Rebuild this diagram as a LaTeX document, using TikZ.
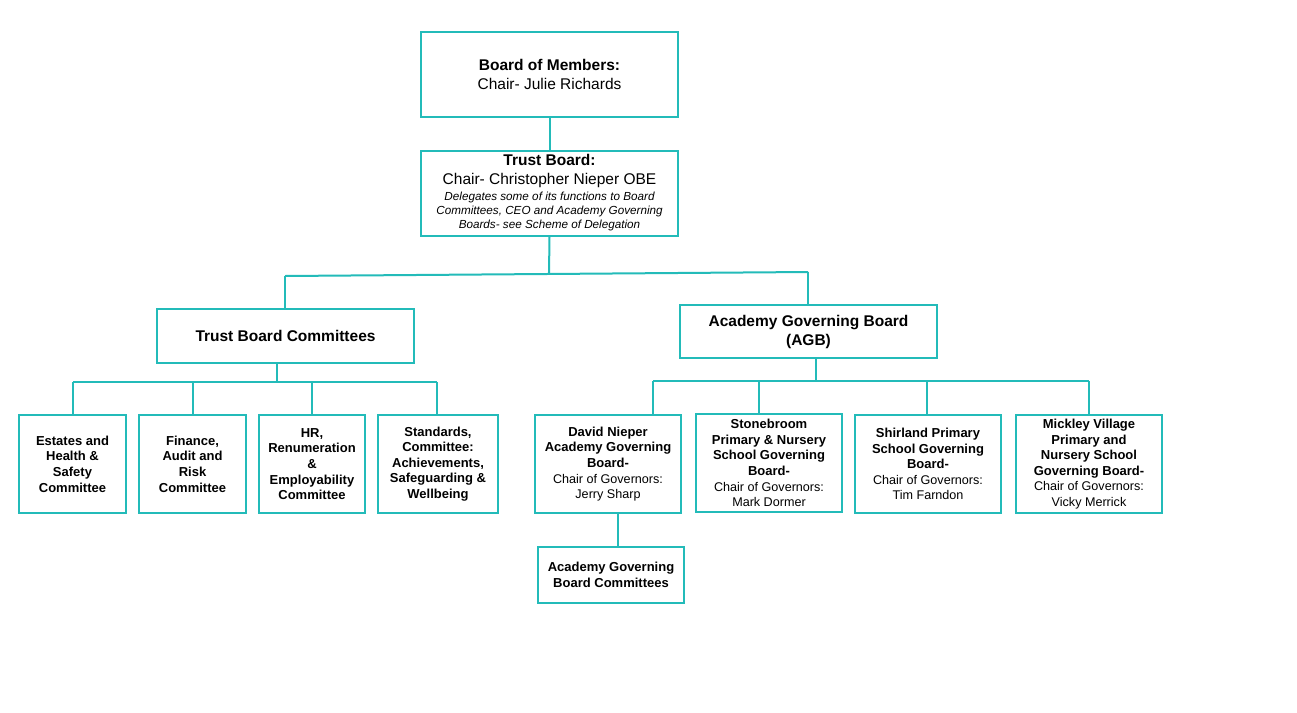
\documentclass[tikz,border=0pt]{standalone}
\usepackage{fontspec}
\setmainfont{Liberation Sans}
\definecolor{tealline}{RGB}{35,187,185}
\newcommand\rl[1]{{\mdseries\fontsize{12.6}{15.6}\selectfont #1}}
\newcommand\tbi[1]{{\fontsize{11.7}{14}\selectfont\itshape #1}}
\begin{document}
\begin{tikzpicture}[x=1pt,y=-1pt,
  box/.style={draw=tealline, line width=2pt, inner sep=0pt, align=center, fill=white},
  conn/.style={draw=tealline, line width=2pt},
  big/.style={font=\fontsize{15.5}{19}\selectfont},
  cmt/.style={font=\fontsize{13}{15.6}\selectfont\bfseries, minimum height=98},
  sch/.style={font=\fontsize{13}{15.6}\selectfont\bfseries, minimum width=146, minimum height=98}]
\useasboundingbox[fill=white] (0,0) rectangle (1297,712);

% connector junctions
\coordinate (hl) at (285,276);
\coordinate (hr) at (808,272);
\coordinate (hm) at (549,274);
\coordinate (tbus) at (277,382);
\coordinate (tbl) at (73,382);
\coordinate (tbr) at (437,382);
\coordinate (abus) at (816,381);
\coordinate (abl) at (653,381);
\coordinate (abr) at (1089,381);
\coordinate (a2) at (759,381);
\coordinate (a3) at (927,381);
\coordinate (dv) at (618,513);

% boxes
\node[box,big,minimum width=257,minimum height=85] (bom) at (549.5,74.5)
  {\textbf{Board of Members:}\\Chair- Julie Richards};
\node[box,big,minimum width=257,minimum height=85] (tb) at (549.5,193)
  {\textbf{Trust Board:}\\Chair- Christopher Nieper OBE\\[-3pt]
   \tbi{Delegates some of its functions to Board}\\[-5pt]
   \tbi{Committees, CEO and Academy Governing}\\[-5pt]
   \tbi{Boards- see Scheme of Delegation}};
\node[box,font=\fontsize{15.5}{19}\selectfont\bfseries,minimum width=257,minimum height=54] (tbc) at (285.5,336)
  {Trust Board Committees};
\node[box,font=\fontsize{15.5}{19}\selectfont\bfseries,minimum width=257,minimum height=53] (agb) at (808.5,331.5)
  {Academy Governing Board\\(AGB)};

\node[box,cmt,minimum width=107] (e1) at (72.5,464) {Estates and\\Health \&\\Safety\\Committee};
\node[box,cmt,minimum width=107] (e2) at (192.5,464) {Finance,\\Audit and\\Risk\\Committee};
\node[box,cmt,minimum width=106] (e3) at (312,464) {HR,\\Renumeration\\\&\\Employability\\Committee};
\node[box,cmt,minimum width=120] (e4) at (438,464) {Standards,\\Committee:\\Achievements,\\Safeguarding \&\\Wellbeing};

\node[box,sch] (s1) at (608,464) {David Nieper\\Academy Governing\\Board-\\
  \rl{Chair of Governors:}\\\rl{Jerry Sharp}};
\node[box,sch] (s2) at (769,463) {Stonebroom\\Primary \& Nursery\\School Governing\\Board-\\
  \rl{Chair of Governors:}\\\rl{Mark Dormer}};
\node[box,sch] (s3) at (928,464) {Shirland Primary\\School Governing\\Board-\\
  \rl{Chair of Governors:}\\\rl{Tim Farndon}};
\node[box,sch] (s4) at (1089,464) {Mickley Village\\Primary and\\Nursery School\\Governing Board-\\
  \rl{Chair of Governors:}\\\rl{Vicky Merrick}};

\node[box,font=\fontsize{13}{15.6}\selectfont\bfseries,minimum width=146,minimum height=56] (agbc) at (611,575)
  {Academy Governing\\Board Committees};

% connectors
\draw[conn] (bom.south) -- (tb.north);
\draw[conn] (tb.south) -- (hm);
\draw[conn] (hl) -- (hr);
\draw[conn] (hl) -- (hl |- tbc.north);
\draw[conn] (hr) -- (hr |- agb.north);

\draw[conn] (tbus |- tbc.south) -- (tbus);
\draw[conn] (tbl) -- (tbr);
\draw[conn] (tbl) -- (tbl |- e1.north);
\draw[conn] (e2.north |- tbus) -- (e2.north);
\draw[conn] (e3.north |- tbus) -- (e3.north);
\draw[conn] (tbr) -- (tbr |- e4.north);

\draw[conn] (abus |- agb.south) -- (abus);
\draw[conn] (abl) -- (abr);
\draw[conn] (abl) -- (abl |- s1.north);
\draw[conn] (a2) -- (a2 |- s2.north);
\draw[conn] (a3) -- (a3 |- s3.north);
\draw[conn] (abr) -- (abr |- s4.north);

\draw[conn] (dv) -- (dv |- agbc.north);
\end{tikzpicture}
\end{document}
